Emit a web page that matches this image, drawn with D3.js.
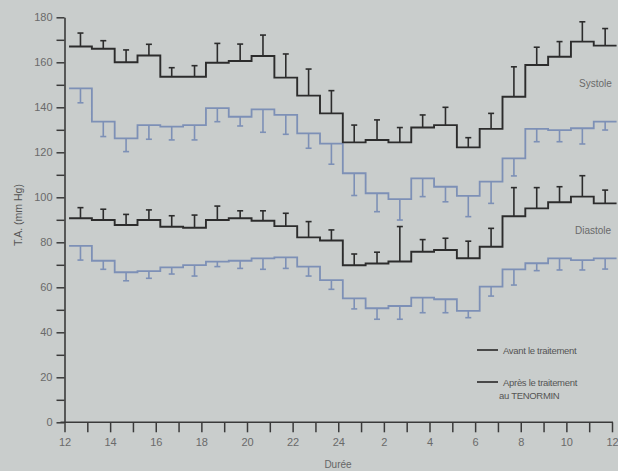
<!DOCTYPE html>
<html>
<head>
<meta charset="utf-8">
<script src="https://cdn.jsdelivr.net/npm/d3@7"></script>
<style>
  html, body { margin: 0; padding: 0; background: #c9cdcc; }
  svg { display: block; }
  text { font-family: "Liberation Sans", Arial, sans-serif; }
</style>
</head>
<body>
<svg id="chart" width="618" height="471"></svg>
<script>
// Step start times (hours, 12 = noon, 24 = midnight, 36 = next noon)
const stepStart = [12.2, 13.2, 14.2, 15.2, 16.2, 17.2, 18.2, 19.2, 20.2, 21.2, 22.2, 23.2,
                   24.2, 25.2, 26.2, 27.2, 28.2, 29.2, 30.2, 31.2, 32.2, 33.2, 34.2, 35.2];
const stepEnd = 36.2;

// Systolic, before treatment (black) and upper SD
const sysBefore   = [167, 166, 160, 163, 153.6, 153.6, 159.8, 160.6, 162.8, 153.2, 145.2, 137.3,
                     124.4, 125.5, 124.4, 131, 132.1, 122.2, 130.4, 144.7, 158.8, 162.5, 169.2, 167.4];
const sysBeforeSD = [173, 169.6, 165.5, 168, 157.6, 158.5, 168.4, 168.1, 172.1, 163.7, 157, 147.4,
                     132.1, 134.4, 131, 136.6, 140, 126.5, 137.3, 158, 166.7, 169.2, 178, 175];
// Systolic, after TENORMIN (blue) and lower SD
const sysAfter    = [148.4, 133.6, 126.2, 132.1, 131.4, 132.1, 139.6, 135.8, 139.1, 136.6, 128.4, 123.9,
                     110.7, 101.8, 99.2, 108.4, 104.7, 100.6, 107, 117.3, 130.4, 129.9, 130.7, 133.6];
const sysAfterSD  = [142, 127, 120.3, 125.8, 125.5, 125.5, 133.6, 131.7, 128.9, 128, 121.8, 114.7,
                     100.8, 93.6, 89.9, 100.3, 98, 91.4, 97.3, 109.5, 124.7, 124.7, 123.7, 129.9];
// Diastolic, before treatment (black) and upper SD
const diaBefore   = [90.7, 89.9, 87.7, 89.9, 86.9, 86.5, 89.9, 90.7, 89.6, 87.2, 82.2, 80.8,
                     69.8, 70.6, 71.5, 75.8, 76.6, 72.9, 78, 91.6, 95.1, 97.8, 100.3, 97.3];
const diaBeforeSD = [95.4, 94.7, 92.4, 94.4, 91.8, 92.1, 96.1, 94, 94, 92.9, 89.2, 85.5,
                     74.8, 75.6, 87, 81.2, 81.8, 80.5, 86.2, 104.3, 104.3, 104.7, 109.6, 103.2];
// Diastolic, after TENORMIN (blue) and lower SD
const diaAfter    = [78.4, 71.8, 66.7, 67.2, 68.9, 69.9, 71.4, 71.8, 72.9, 73.3, 69.2, 63.2,
                     55.1, 50.7, 51.7, 55.4, 54.7, 49.5, 60.3, 68, 70.7, 72.9, 72.1, 72.9];
const diaAfterSD  = [72.1, 68, 62.9, 64, 65.9, 65, 69.2, 68.4, 68, 68.4, 65, 59.1,
                     50.4, 45.8, 45.8, 48.7, 48.7, 46.5, 56.1, 61, 67.4, 67.7, 67.7, 68.1];

const xTickHours = [12,13,14,15,16,17,18,19,20,21,22,23,24,25,26,27,28,29,30,31,32,33,34,35,36];
const xTickLabels = ["12","","14","","16","","18","","20","","22","","24","","2","","4","","6","","8","","10","","12"];
const yTicks = [0,10,20,30,40,50,60,70,80,90,100,110,120,130,140,150,160,170,180];
const yTickLabels = ["0","","20","","40","","60","","80","","100","","120","","140","","160","","180"];

const svg = d3.select("#chart");
const W = 618, H = 471;
svg.append("rect").attr("width", W).attr("height", H).attr("fill", "#c9cdcc");

const x = d3.scaleLinear().domain([12, 36]).range([64.5, 612]);
const y = d3.scaleLinear().domain([0, 180]).range([422.3, 17.3]);

const BLACK = "#2c2c2c";
const BLUE = "#7d90b6";
const AXIS = "#3a3a3a";
const LABEL = "#6a6a6a";

// Axes
const xAxis = d3.axisBottom(x).tickValues(xTickHours).tickSize(10).tickSizeOuter(0)
  .tickFormat((d, i) => xTickLabels[i]);
const gx = svg.append("g").attr("transform", `translate(0,${y(0)})`).call(xAxis);
gx.select(".domain").attr("d", `M${x(12) - 4},0H${x(36) + 1}`).attr("stroke", AXIS).attr("stroke-width", 1.6);
gx.selectAll(".tick line").attr("stroke", AXIS).attr("stroke-width", 1.5);
gx.selectAll(".tick text").attr("fill", LABEL).attr("font-size", 11).attr("dy", "0.95em");

const yAxis = d3.axisLeft(y).tickValues(yTicks).tickSize(8).tickSizeOuter(0)
  .tickFormat((d, i) => yTickLabels[i]);
const gy = svg.append("g").attr("transform", `translate(${x(12)},0)`).call(yAxis);
gy.select(".domain").attr("stroke", AXIS).attr("stroke-width", 1.6);
gy.selectAll(".tick line").attr("stroke", AXIS).attr("stroke-width", 1.5);
gy.selectAll(".tick text").attr("fill", LABEL).attr("font-size", 11).attr("dx", "-1px");

// Step series
function stepPoints(vals) {
  const pts = vals.map((v, i) => [stepStart[i], v]);
  pts.push([stepEnd, vals[vals.length - 1]]);
  return pts;
}
const line = d3.line().x(d => x(d[0])).y(d => y(d[1])).curve(d3.curveStepAfter);

function drawSeries(vals, sd, color, width) {
  const g = svg.append("g");
  // error bars
  vals.forEach((v, i) => {
    const cx = x((stepStart[i] + (i < stepStart.length - 1 ? stepStart[i + 1] : stepEnd)) / 2);
    g.append("line").attr("x1", cx).attr("x2", cx).attr("y1", y(v)).attr("y2", y(sd[i]))
      .attr("stroke", color).attr("stroke-width", 1.6);
    g.append("line").attr("x1", cx - 3).attr("x2", cx + 3).attr("y1", y(sd[i])).attr("y2", y(sd[i]))
      .attr("stroke", color).attr("stroke-width", 1.6);
  });
  g.append("path").attr("d", line(stepPoints(vals))).attr("fill", "none")
    .attr("stroke", color).attr("stroke-width", width);
}
drawSeries(sysAfter, sysAfterSD, BLUE, 1.8);
drawSeries(diaAfter, diaAfterSD, BLUE, 1.8);
drawSeries(sysBefore, sysBeforeSD, BLACK, 1.9);
drawSeries(diaBefore, diaBeforeSD, BLACK, 1.9);

// Labels
svg.append("text").attr("x", 579).attr("y", 87).attr("fill", LABEL).attr("font-size", 10).text("Systole");
svg.append("text").attr("x", 575).attr("y", 234).attr("fill", LABEL).attr("font-size", 10).text("Diastole");

svg.append("text").attr("transform", "translate(22,215) rotate(-90)").attr("text-anchor", "middle")
  .attr("fill", "#555").attr("font-size", 10.5).text("T.A. (mm Hg)");
svg.append("text").attr("x", 338).attr("y", 468).attr("text-anchor", "middle")
  .attr("fill", "#666").attr("font-size", 10).text("Durée");

// Legend
const legend = svg.append("g");
legend.append("line").attr("x1", 477).attr("x2", 498).attr("y1", 350).attr("y2", 350)
  .attr("stroke", "#3a3a3a").attr("stroke-width", 1.8);
legend.append("text").attr("x", 503).attr("y", 354).attr("fill", "#555").attr("font-size", 9.5)
  .attr("letter-spacing", "-0.3").text("Avant le traitement");
legend.append("line").attr("x1", 477).attr("x2", 498).attr("y1", 382).attr("y2", 382)
  .attr("stroke", "#3a3a3a").attr("stroke-width", 1.8);
legend.append("text").attr("x", 503).attr("y", 386).attr("fill", "#555").attr("font-size", 9.5)
  .attr("letter-spacing", "-0.3").text("Après le traitement");
legend.append("text").attr("x", 499).attr("y", 399).attr("fill", "#555").attr("font-size", 9.5)
  .attr("letter-spacing", "-0.3").text("au TENORMIN");
</script>
</body>
</html>
